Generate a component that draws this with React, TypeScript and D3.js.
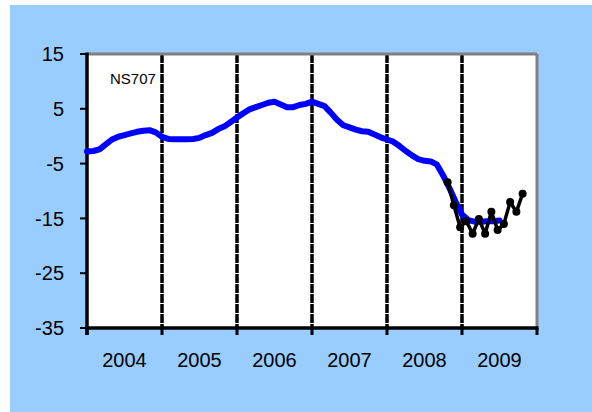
import React from "react";
import * as d3 from "d3";

const yearLabels = ["2004", "2005", "2006", "2007", "2008", "2009"];
const yTicks = [15, 5, -5, -15, -25, -35];
const seriesLabel = "NS707";

// Blue series: monthly from Jan 2004 (index 0)
const blueValues = [
  -2.8, -2.7, -2.4, -1.5, -0.6, -0.1, 0.2, 0.5, 0.8, 1.0, 1.1, 0.7,
  -0.1, -0.5, -0.55, -0.55, -0.55, -0.5, -0.3, 0.2, 0.6, 1.3, 1.8, 2.6,
  3.4, 4.2, 4.9, 5.3, 5.7, 6.1, 6.3, 5.8, 5.3, 5.3, 5.7, 5.9,
  6.3, 5.9, 5.5, 4.3, 3.0, 2.0, 1.6, 1.2, 0.9, 0.8, 0.3, -0.2,
  -0.6, -1.0, -1.8, -2.7, -3.5, -4.2, -4.5, -4.6, -5.2, -7.2, -9.5, -12.0,
  -14.3, -15.3, -15.6, -15.6, -15.5, -15.5, -15.4,
];

// Black series: monthly, starting near Nov 2008
const blackStart = 57.7;
const blackValues = [
  -8.4, -12.6, -16.6, -15.5, -17.8, -15.1, -17.8, -13.8, -17.1, -16.0, -12.0, -13.8, -10.5,
];

const W = 592;
const H = 412;
const left = 87;
const right = 537;
const top = 54;
const bottom = 328;

export default function App() {
  const x = d3.scaleLinear().domain([0, 72]).range([left, right]);
  const y = d3.scaleLinear().domain([-35, 15]).range([bottom, top]);

  const blueLine = d3
    .line<number>()
    .x((_, i) => x(i))
    .y((d) => y(d));
  const blackLine = d3
    .line<number>()
    .x((_, i) => x(blackStart + i))
    .y((d) => y(d));

  const yearIdx = d3.range(0, 7).map((k) => k * 12);

  return (
    <svg
      width={W}
      height={H}
      style={{ position: "absolute", left: 0, top: 0 }}
      fontFamily="'Liberation Sans', Arial, sans-serif"
    >
      <rect x={0} y={0} width={W} height={H} fill="#ffffff" />
      <rect x={10} y={5} width={W - 10} height={H - 5} fill="#99CCFF" />
      <rect x={left} y={top} width={right - left} height={bottom - top} fill="#ffffff" />

      {/* gridlines */}
      {yearIdx.slice(1, 6).map((m) => (
        <line
          key={m}
          x1={x(m)}
          x2={x(m)}
          y1={top}
          y2={bottom}
          stroke="#000"
          strokeWidth={3.5}
          strokeDasharray="9,1"
        />
      ))}

      {/* top & right border */}
      <line x1={left} x2={right} y1={top} y2={top} stroke="#808080" strokeWidth={3} />
      <line x1={right} x2={right} y1={top} y2={bottom} stroke="#808080" strokeWidth={3} />

      {/* axes */}
      <line x1={left} x2={left} y1={top - 1.5} y2={bottom + 7} stroke="#000" strokeWidth={3.5} />
      <line x1={left - 1.5} x2={right + 1.5} y1={bottom} y2={bottom} stroke="#000" strokeWidth={3.5} />
      {yTicks.map((t) => (
        <line key={t} x1={left - 7} x2={left} y1={y(t)} y2={y(t)} stroke="#000" strokeWidth={2} />
      ))}
      {yearIdx.map((m) => (
        <line key={m} x1={x(m)} x2={x(m)} y1={bottom} y2={bottom + 7} stroke="#000" strokeWidth={3} />
      ))}

      {/* y labels */}
      {yTicks.map((t) => (
        <text key={t} x={64} y={y(t)} dy="0.36em" textAnchor="end" fontSize={20} fill="#000">
          {t}
        </text>
      ))}
      {/* x labels */}
      {yearLabels.map((lab, k) => (
        <text
          key={lab}
          x={(x(k * 12) + x(k * 12 + 12)) / 2}
          y={367}
          textAnchor="middle"
          fontSize={20}
          fill="#000"
        >
          {lab}
        </text>
      ))}

      <text x={110} y={84} fontSize={15} fill="#000">
        {seriesLabel}
      </text>

      <path
        d={blueLine(blueValues) ?? ""}
        fill="none"
        stroke="#0000FF"
        strokeWidth={6}
        strokeLinejoin="round"
        strokeLinecap="round"
      />
      <path
        d={blackLine(blackValues) ?? ""}
        fill="none"
        stroke="#000"
        strokeWidth={3.5}
        strokeLinejoin="round"
      />
      {blackValues.map((v, i) => (
        <circle key={i} cx={x(blackStart + i)} cy={y(v)} r={4} fill="#000" />
      ))}
    </svg>
  );
}
